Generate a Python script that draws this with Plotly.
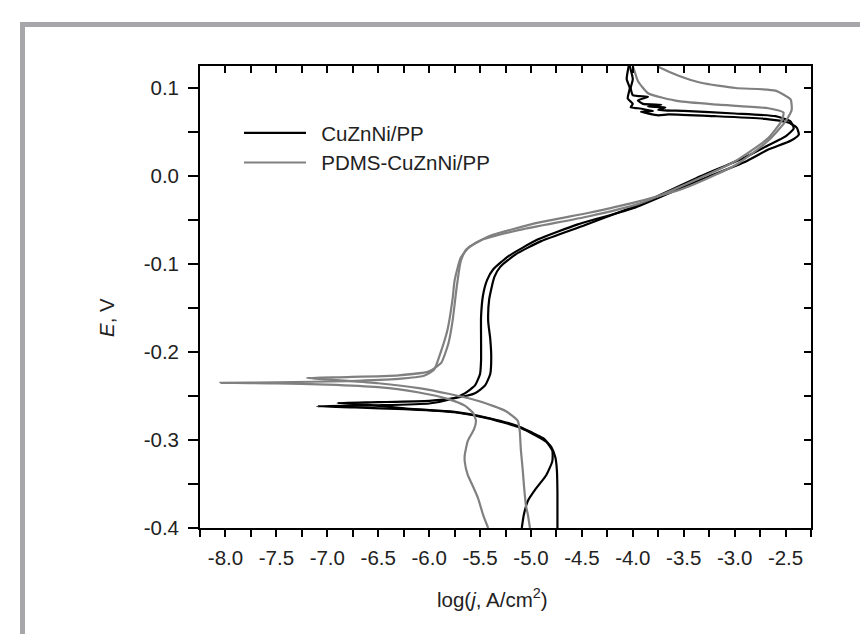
import plotly.graph_objects as go

# ---------------- data (log j in log10(A/cm2), E in V) ----------------
cu_run1_logj = [-4.74, -4.74, -4.745, -4.76, -4.80, -4.88, -5.00, -5.13, -5.42, -5.75, -6.24, -6.73, -7.10,
                -6.50, -6.00, -5.80, -5.65, -5.55, -5.50, -5.49, -5.49, -5.49, -5.47, -5.43, -5.37, -5.22,
                -4.93, -4.54, -3.98, -3.33, -2.90, -2.67, -2.45, -2.37, -2.39, -2.48, -2.70, -3.20, -3.65,
                -3.75, -3.92, -3.80, -3.95, -4.02, -4.00, -4.05, -4.03, -4.06, -4.04]
cu_run1_E = [-0.400, -0.360, -0.335, -0.320, -0.308, -0.298, -0.291, -0.284, -0.275, -0.268, -0.265, -0.263, -0.2617,
             -0.2605, -0.2585, -0.254, -0.247, -0.238, -0.225, -0.210, -0.185, -0.160, -0.135, -0.118, -0.106, -0.091,
             -0.072, -0.055, -0.036, -0.004, 0.016, 0.030, 0.040, 0.047, 0.055, 0.061, 0.065, 0.068, 0.070,
             0.069, 0.073, 0.074, 0.077, 0.078, 0.082, 0.088, 0.100, 0.110, 0.125]

cu_run2_logj = [-5.09, -5.07, -5.03, -4.95, -4.85, -4.79, -4.79, -4.85, -5.00, -5.13, -5.42, -5.75, -6.24, -6.60, -6.90,
                -6.50, -6.00, -5.75, -5.55, -5.45, -5.40, -5.39, -5.40, -5.42, -5.41, -5.36, -5.30, -5.15,
                -4.90, -4.50, -3.95, -3.33, -2.90, -2.67, -2.50, -2.42, -2.45, -2.60, -3.00, -3.50, -3.75,
                -3.68, -3.85, -3.72, -3.90, -3.95, -3.85, -4.00, -4.02, -4.00, -4.03]
cu_run2_E = [-0.400, -0.385, -0.369, -0.355, -0.340, -0.324, -0.312, -0.302, -0.292, -0.285, -0.2755, -0.2685, -0.264, -0.260, -0.258,
             -0.257, -0.2555, -0.2525, -0.247, -0.238, -0.225, -0.205, -0.185, -0.165, -0.140, -0.115, -0.103, -0.089,
             -0.074, -0.057, -0.033, 0.000, 0.021, 0.035, 0.045, 0.054, 0.062, 0.068, 0.071, 0.074, 0.075,
             0.078, 0.079, 0.081, 0.082, 0.086, 0.090, 0.092, 0.100, 0.110, 0.125]

pdms_run1_logj = [-5.42, -5.47, -5.52, -5.58, -5.62, -5.65, -5.65, -5.62, -5.56, -5.54, -5.57, -5.65, -5.81, -6.10, -6.50,
                  -7.00, -7.50, -8.05,
                  -7.50, -6.80, -6.30, -6.05, -5.95, -5.90, -5.82, -5.77, -5.75, -5.69, -5.60, -5.40, -4.93, -4.44,
                  -3.98, -3.49, -2.99, -2.67, -2.50, -2.44, -2.45, -2.60, -2.99, -3.33, -3.55, -3.73, -3.76]
pdms_run1_E = [-0.400, -0.385, -0.366, -0.350, -0.340, -0.325, -0.317, -0.301, -0.288, -0.278, -0.269, -0.261, -0.2535, -0.246, -0.240,
               -0.2370, -0.2357, -0.2350,
               -0.2345, -0.2330, -0.2305, -0.2270, -0.2200, -0.2050, -0.1750, -0.1400, -0.1190, -0.0930, -0.0800, -0.0680, -0.0530, -0.0420,
               -0.0300, -0.0136, 0.0125, 0.040, 0.062, 0.075, 0.087, 0.097, 0.100, 0.106, 0.114, 0.123, 0.125]

pdms_run2_logj = [-5.01, -5.03, -5.05, -5.07, -5.08, -5.10, -5.11, -5.13, -5.25, -5.49, -5.81, -6.10, -6.50, -6.90, -7.20,
                  -6.80, -6.30, -6.00, -5.88, -5.81, -5.77, -5.73, -5.69, -5.64, -5.49, -5.10, -4.44, -3.95, -3.49,
                  -2.99, -2.67, -2.54, -2.52, -2.67, -3.16, -3.55, -3.85, -3.95, -3.98, -4.00]
pdms_run2_E = [-0.400, -0.385, -0.374, -0.350, -0.335, -0.310, -0.290, -0.278, -0.267, -0.2565, -0.2475, -0.2410, -0.2355, -0.2320, -0.2295,
               -0.2285, -0.2265, -0.2220, -0.2120, -0.1900, -0.1650, -0.1270, -0.0970, -0.0840, -0.0730, -0.0610, -0.0460, -0.0320, -0.0100,
               0.0170, 0.0430, 0.0625, 0.0720, 0.0770, 0.0810, 0.0850, 0.0940, 0.1080, 0.1180, 0.1250]

series_names = ["CuZnNi/PP", "PDMS-CuZnNi/PP"]

x_tick_vals = [-8.0, -7.5, -7.0, -6.5, -6.0, -5.5, -5.0, -4.5, -4.0, -3.5, -3.0, -2.5]
x_tick_text = ["-8.0", "-7.5", "-7.0", "-6.5", "-6.0", "-5.5", "-5.0", "-4.5", "-4.0", "-3.5", "-3.0", "-2.5"]
y_tick_vals = [-0.4, -0.3, -0.2, -0.1, 0.0, 0.1]
y_tick_text = ["-0.4", "-0.3", "-0.2", "-0.1", "0.0", "0.1"]

# ---------------- figure ----------------
FONT = "Liberation Sans, Arial, sans-serif"
FS = 20.5
TXT = "#222222"
BLACK = "#000000"
GRAY = "#808080"
LW = 2.2

fig = go.Figure()

def add_curve(x, y, color, name, show):
    fig.add_trace(go.Scatter(
        x=x, y=y, mode="lines", name="\u2002" + name, legendgroup=name, showlegend=show,
        line=dict(color=color, width=LW, shape="spline", smoothing=0.5),
        hoverinfo="skip"))

add_curve(cu_run1_logj, cu_run1_E, BLACK, series_names[0], True)
add_curve(cu_run2_logj, cu_run2_E, BLACK, series_names[0], False)
add_curve(pdms_run1_logj, pdms_run1_E, GRAY, series_names[1], True)
add_curve(pdms_run2_logj, pdms_run2_E, GRAY, series_names[1], False)

# empty trace to activate the mirrored (top/right) axes
fig.add_trace(go.Scatter(x=[], y=[], xaxis="x2", yaxis="y2", showlegend=False, hoverinfo="skip"))

xr = [-8.25, -2.25]
yr = [-0.4, 0.125]

fig.update_layout(
    width=868, height=634,
    margin=dict(l=192, r=65, t=58, b=114, pad=0),
    paper_bgcolor="white", plot_bgcolor="white",
    font=dict(family=FONT, size=FS, color=TXT),
    showlegend=True,
    legend=dict(x=(231 - 192) / 611, y=(520 - 105) / 462, xanchor="left", yanchor="top",
                bgcolor="rgba(0,0,0,0)", borderwidth=0, itemwidth=62,
                font=dict(family=FONT, size=FS, color=TXT),
                traceorder="grouped", tracegroupgap=0),
    xaxis=dict(range=xr, tickvals=x_tick_vals, ticktext=x_tick_text,
               ticks="outside", ticklen=7, tickwidth=1.5, tickcolor=BLACK,
               minor=dict(dtick=0.25, tick0=-8, ticks="outside", ticklen=7, tickwidth=1.5, tickcolor=BLACK),
               showline=True, linewidth=1.8, linecolor=BLACK,
               showgrid=False, zeroline=False, ticklabelstandoff=3,
               tickfont=dict(family=FONT, size=FS, color=TXT)),
    yaxis=dict(range=yr, tickvals=y_tick_vals, ticktext=y_tick_text,
               ticks="outside", ticklen=10, tickwidth=1.5, tickcolor=BLACK,
               minor=dict(dtick=0.05, tick0=0, ticks="outside", ticklen=10, tickwidth=1.5, tickcolor=BLACK),
               showline=True, linewidth=1.8, linecolor=BLACK,
               showgrid=False, zeroline=False, ticklabelstandoff=5,
               tickfont=dict(family=FONT, size=FS, color=TXT)),
    xaxis2=dict(range=xr, overlaying="x", side="top", anchor="y",
                dtick=0.25, tick0=-8, ticks="inside", ticklen=7, tickwidth=1.5, tickcolor=BLACK,
                showticklabels=False, showline=True, linewidth=1.8, linecolor=BLACK,
                showgrid=False, zeroline=False),
    yaxis2=dict(range=yr, overlaying="y", side="right", anchor="x",
                dtick=0.05, tick0=0, ticks="inside", ticklen=7, tickwidth=1.5, tickcolor=BLACK,
                showticklabels=False, showline=True, linewidth=1.8, linecolor=BLACK,
                showgrid=False, zeroline=False),
)

# axis titles
fig.add_annotation(text="<i>E</i>, V", xref="paper", yref="paper",
                   x=(98 - 192) / 611, y=(520 - 310) / 462, textangle=-90,
                   showarrow=False, xanchor="center", yanchor="middle",
                   font=dict(family=FONT, size=FS, color=TXT))
fig.add_annotation(text="log(<i>j</i>, A/cm<sup>2</sup>)", xref="paper", yref="paper",
                   x=(484 - 192) / 611, y=(520 - 590) / 462,
                   showarrow=False, xanchor="center", yanchor="middle",
                   font=dict(family=FONT, size=FS, color=TXT))

# gray frame around the figure (top and left bars)
FRAME = "#a7a7ab"
def px_x(p):
    return (p - 192) / 611
def px_y(p):
    return (520 - p) / 462
fig.add_shape(type="rect", xref="paper", yref="paper",
              x0=px_x(12), x1=px_x(870), y0=px_y(19), y1=px_y(14),
              fillcolor=FRAME, line=dict(width=0), layer="above")
fig.add_shape(type="rect", xref="paper", yref="paper",
              x0=px_x(12), x1=px_x(17), y0=px_y(636), y1=px_y(14),
              fillcolor=FRAME, line=dict(width=0), layer="above")

fig.write_html("out.html")
